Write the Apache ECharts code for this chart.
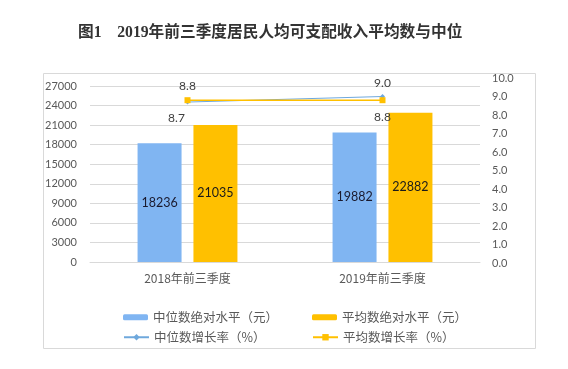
<!DOCTYPE html>
<html><head><meta charset="utf-8">
<script src="https://cdn.jsdelivr.net/npm/echarts@6/dist/echarts.min.js"></script>
<style>html,body{margin:0;padding:0;background:#fff}#c{width:568px;height:369px}</style>
</head><body><div id="c"></div>
<script>
const categories = ['2018年前三季度', '2019年前三季度'];
const medianAbs = [18236, 19882];
const meanAbs = [21035, 22882];
const medianGrowth = [8.7, 9.0];
const meanGrowth = [8.8, 8.8];
const leftTicks = [0, 27000, 3000];
const rightTicks = [0, 10, 1];
const seriesNames = ['中位数绝对水平（元）', '平均数绝对水平（元）', '中位数增长率（%）', '平均数增长率（%）'];
const titleText = '图1　2019年前三季度居民人均可支配收入平均数与中位';

const FONT = "Lato, 'Noto Sans CJK SC', sans-serif";
const CJK = "'Noto Sans CJK SC', sans-serif";
const axisLabel = {color: '#595959', fontSize: 11, fontFamily: FONT};

const medianPos = [{position: 'bottom', offset: [-11, 0], distance: 8}, {position: 'top'}];
const meanPos = [{position: 'top'}, {position: 'bottom', distance: 8}];

const chart = echarts.init(document.getElementById('c'), null, {renderer: 'canvas'});
const legendBase = {itemWidth: 25, itemHeight: 6, textStyle: {color: '#595959', fontSize: 12.5, fontFamily: CJK}, itemGap: 4};
chart.setOption({
  animation: false,
  title: {text: titleText, left: 73, top: 20, padding: 5,
    textStyle: {fontSize: 15.7, fontWeight: 'bold', color: '#333', fontFamily: "'Liberation Serif', 'Noto Sans CJK SC', serif"}},
  graphic: [{type: 'rect', shape: {x: 43.5, y: 73.5, width: 492, height: 275}, style: {fill: 'none', stroke: '#d9d9d9', lineWidth: 1}, silent: true}],
  legend: [
    Object.assign({}, legendBase, {data: [seriesNames[0]], left: 118, top: 306}),
    Object.assign({}, legendBase, {data: [seriesNames[1]], left: 307, top: 306}),
    Object.assign({}, legendBase, {data: [seriesNames[2]], left: 118, top: 326, itemHeight: 8}),
    Object.assign({}, legendBase, {data: [seriesNames[3]], left: 307, top: 326, itemHeight: 8})
  ],
  grid: [
    {left: 90, right: 88, top: 86, bottom: 107},
    {left: 90, right: 88, top: 78, bottom: 106}
  ],
  xAxis: [
    {type: 'category', data: categories, gridIndex: 0, axisTick: {show: false},
     axisLine: {lineStyle: {color: '#d9d9d9'}},
     axisLabel: {color: '#595959', fontSize: 12, fontFamily: CJK, margin: 10}},
    {type: 'category', data: categories, gridIndex: 1, show: false}
  ],
  yAxis: [
    {type: 'value', gridIndex: 0, min: leftTicks[0], max: leftTicks[1], interval: leftTicks[2],
     axisLine: {show: false}, axisTick: {show: false},
     splitLine: {lineStyle: {color: '#d9d9d9'}}, axisLabel: Object.assign({margin: 13, formatter: v => String(v)}, axisLabel)},
    {type: 'value', gridIndex: 1, position: 'right', min: rightTicks[0], max: rightTicks[1], interval: rightTicks[2],
     axisLine: {show: false}, axisTick: {show: false}, splitLine: {show: false},
     axisLabel: Object.assign({margin: 12, formatter: v => v.toFixed(1)}, axisLabel)}
  ],
  series: [
    {name: seriesNames[0], type: 'bar', xAxisIndex: 0, yAxisIndex: 0, data: medianAbs,
     barWidth: 44, barGap: '27%', itemStyle: {color: '#80B5F2'},
     label: {show: true, position: 'inside', color: '#1a1a2e', fontSize: 12.5, fontFamily: FONT}},
    {name: seriesNames[1], type: 'bar', xAxisIndex: 0, yAxisIndex: 0, data: meanAbs,
     barWidth: 44, barGap: '27%', itemStyle: {color: '#FFC000'},
     label: {show: true, position: 'inside', color: '#1a1a1a', fontSize: 12.5, fontFamily: FONT}},
    {name: seriesNames[2], type: 'line', xAxisIndex: 1, yAxisIndex: 1,
     data: medianGrowth.map((v, i) => ({value: v, label: medianPos[i]})),
     symbol: 'diamond', symbolSize: 5, lineStyle: {color: '#6FA8DC', width: 1}, itemStyle: {color: '#6FA8DC'},
     label: {show: true, color: '#404040', fontSize: 12, fontFamily: FONT, formatter: p => p.value.toFixed(1)}},
    {name: seriesNames[3], type: 'line', xAxisIndex: 1, yAxisIndex: 1,
     data: meanGrowth.map((v, i) => ({value: v, label: meanPos[i]})),
     symbol: 'rect', symbolSize: 6, lineStyle: {color: '#FFC000', width: 1.5}, itemStyle: {color: '#FFC000'},
     label: {show: true, color: '#404040', fontSize: 12, fontFamily: FONT, formatter: p => p.value.toFixed(1)}}
  ]
});
</script></body></html>
